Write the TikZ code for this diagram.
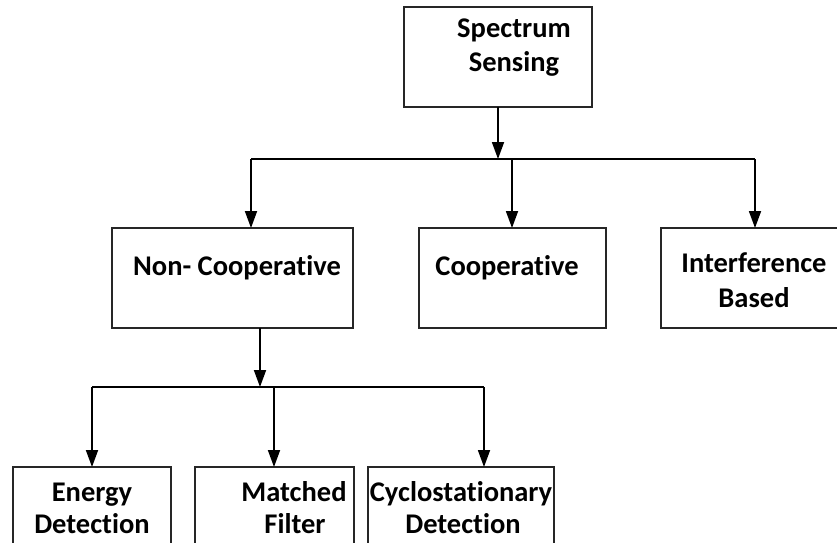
\documentclass[tikz,border=0pt]{standalone}
\usepackage{fontspec}
\setmainfont{Carlito}[Ligatures=CommonOff]
\usetikzlibrary{arrows.meta}
\begin{document}
\begin{tikzpicture}[x=1pt,y=-1pt,
  box/.style={draw=black!85, line width=1.4pt, rectangle, inner sep=0pt, outer sep=0pt, anchor=north west},
  lbl/.style={font=\fontsize{28.5}{34}\selectfont\bfseries, inner sep=0pt, anchor=base},
  conn/.style={line width=1.8pt, black},
  arr/.style={conn, -{Triangle[length=17pt,width=12pt]}}]
\useasboundingbox (0,0) rectangle (837,542);
\clip (0,0) rectangle (837,542);
\fill[white] (0,0) rectangle (837,542);
% boxes
\node[box, minimum width=188pt, minimum height=100pt] (ss) at (404,7) {};
\node[box, minimum width=241pt, minimum height=100pt] (nc) at (112,228) {};
\node[box, minimum width=187pt, minimum height=100pt] (co) at (419,228) {};
\node[box, minimum width=200pt, minimum height=100pt] (ib) at (661,228) {};
\node[box, minimum width=158pt, minimum height=100pt] (ed) at (13,467) {};
\node[box, minimum width=159pt, minimum height=100pt] (mf) at (195,467) {};
\node[box, minimum width=186pt, minimum height=100pt] (cd) at (368,467) {};
% labels
\node[lbl] (ss1) at (514,37) {Spectrum};
\node[lbl] (ss2) at (514,71) {Sensing};
\node[lbl] (nc1) at (237,275) {Non- Cooperative};
\node[lbl] (co1) at (507,275) {Cooperative};
\node[lbl] (ib1) at (754,272) {Interference};
\node[lbl] (ib2) at (754,307) {Based};
\node[lbl] (ed1) at (92,501) {Energy};
\node[lbl] (ed2) at (92,533) {Detection};
\node[lbl] (mf1) at (294,501) {Matched};
\node[lbl] (mf2) at (295,533) {Filter};
\node[lbl] (cd1) at (461,501) {Cyclostationary};
\node[lbl] (cd2) at (463,533) {Detection};
% level 1 connectors
\coordinate (j1) at (498,159);
\coordinate (a1) at (251,159);
\coordinate (a2) at (512,159);
\coordinate (a3) at (755,159);
\draw[arr] (ss.south) -- (j1);
\draw[conn] (a1) -- (a3);
\draw[arr] (a1) -- (a1 |- nc.north);
\draw[arr] (a2) -- (a2 |- co.north);
\draw[arr] (a3) -- (a3 |- ib.north);
% level 2 connectors
\coordinate (n0) at (260,328);
\coordinate (j2) at (260,387);
\coordinate (b1) at (92,387);
\coordinate (b2) at (274,387);
\coordinate (b3) at (484,387);
\draw[arr] (n0) -- (j2);
\draw[conn] (b1) -- (b3);
\draw[arr] (b1) -- (b1 |- ed.north);
\draw[arr] (b2) -- (b2 |- mf.north);
\draw[arr] (b3) -- (b3 |- cd.north);
\end{tikzpicture}
\end{document}
